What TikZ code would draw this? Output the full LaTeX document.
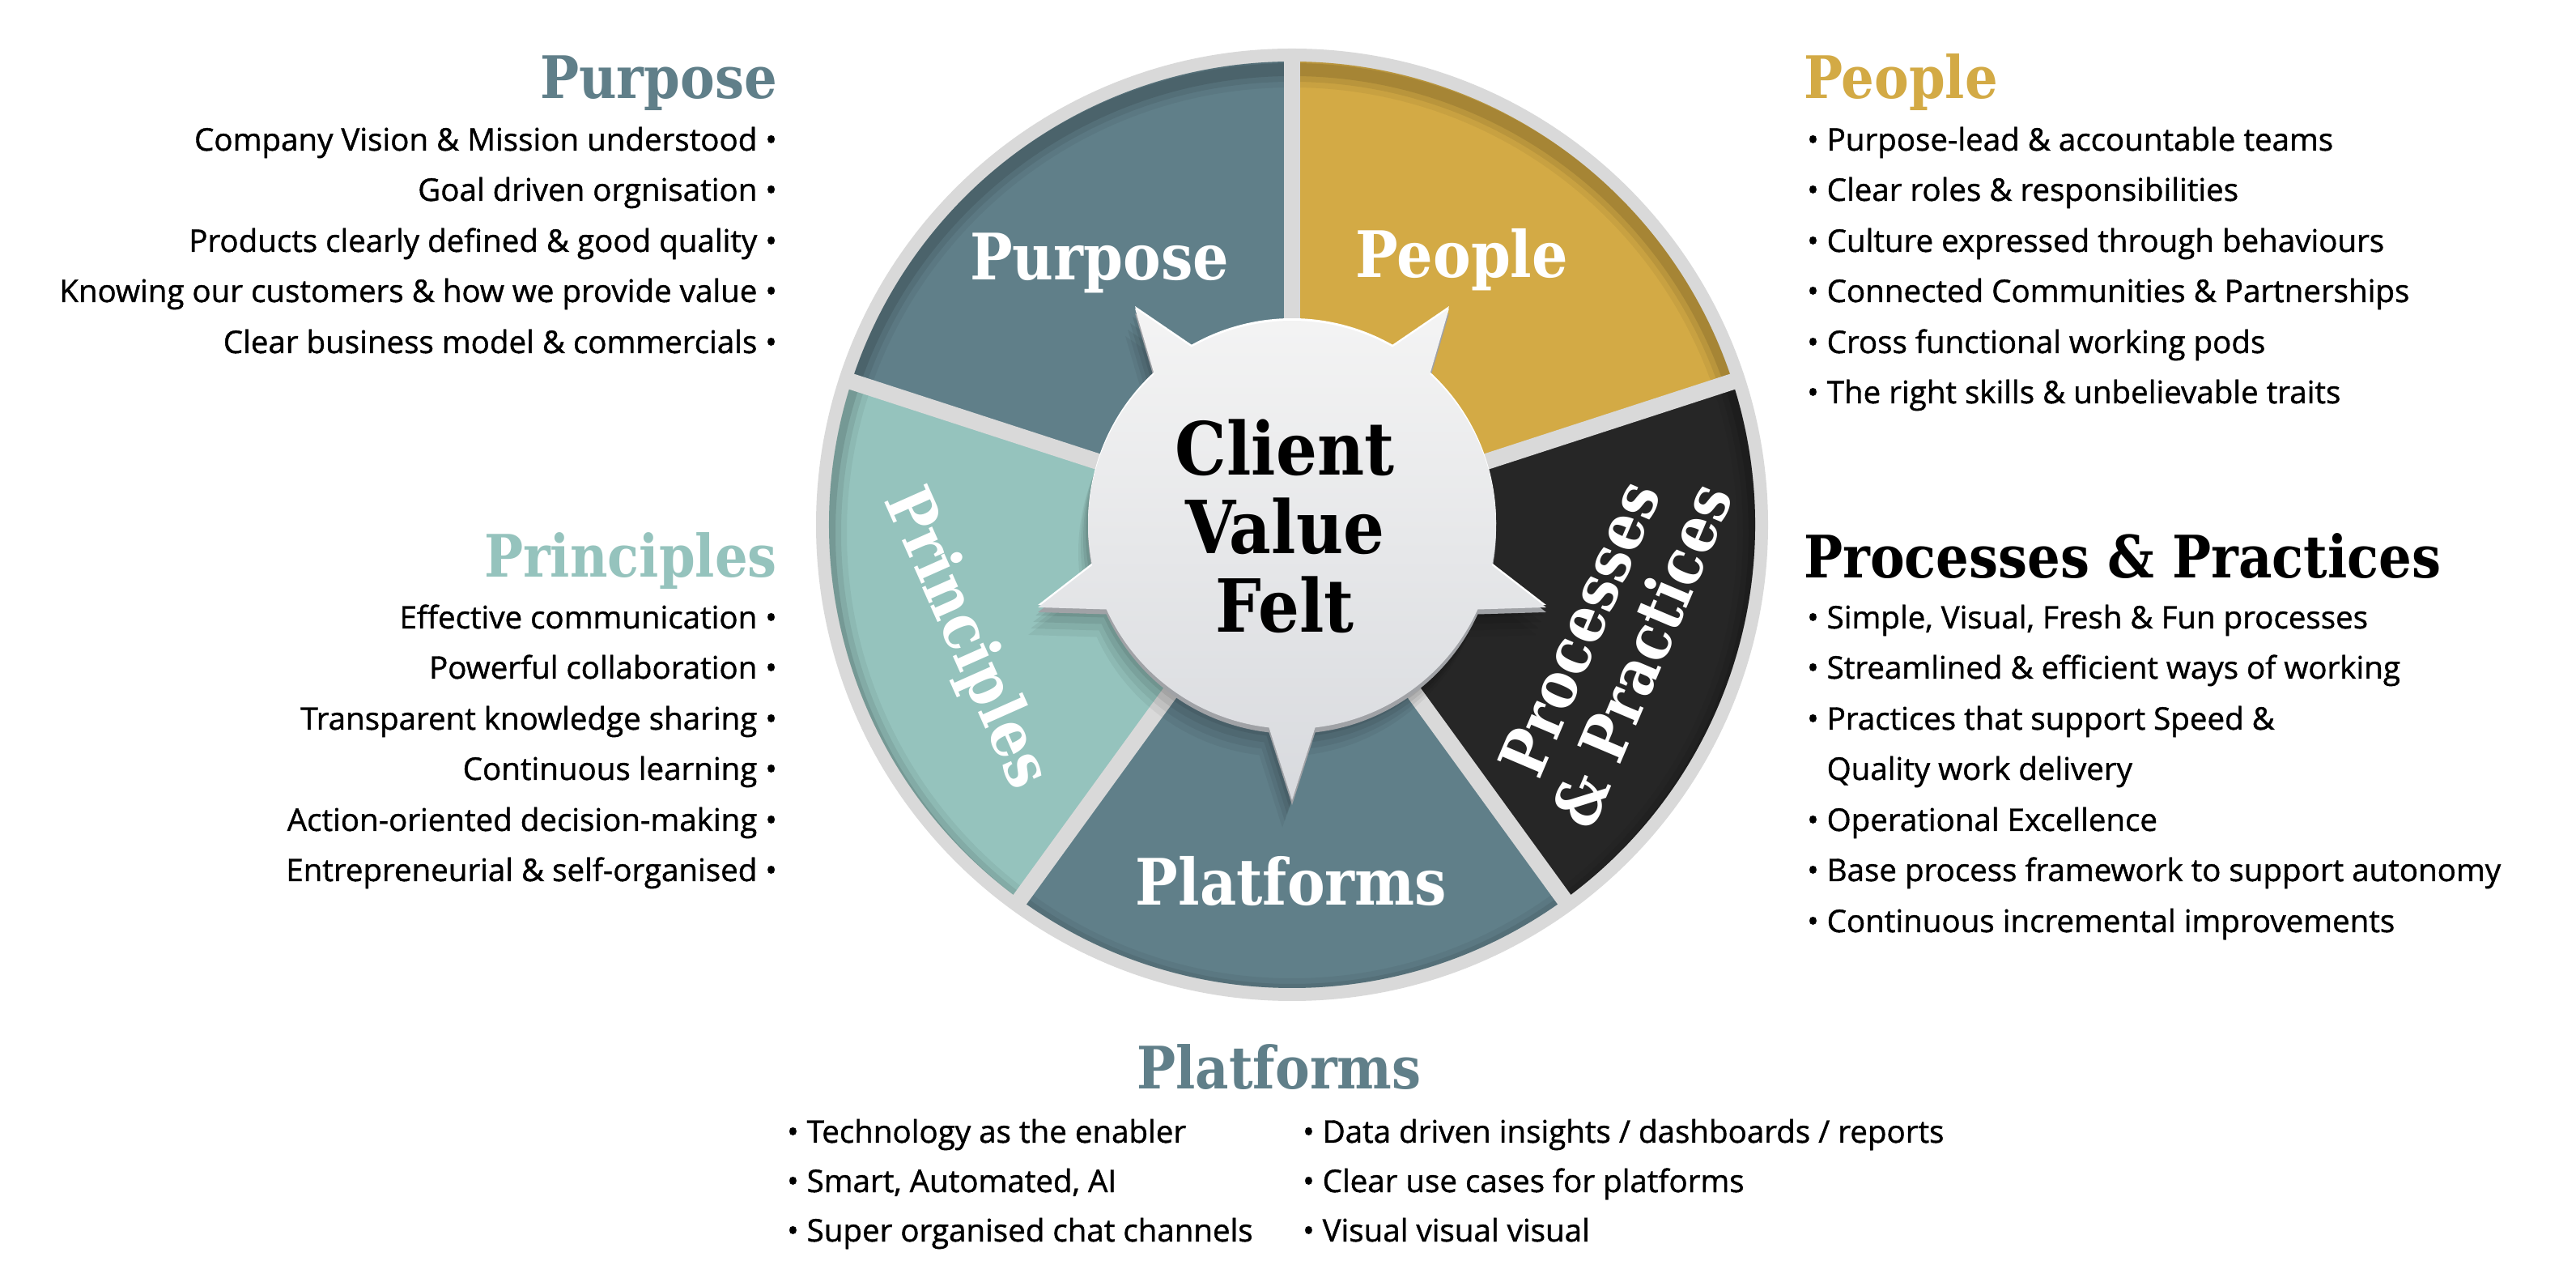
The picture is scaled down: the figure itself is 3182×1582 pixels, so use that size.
\documentclass[tikz,border=0pt]{standalone}
\usepackage{fontspec}
\setmainfont{Open Sans}
\newfontfamily\bodyfont{Open Sans}[FakeBold=1.1]
\newfontfamily\slab{DejaVu Serif}
\definecolor{slate}{HTML}{607F89}
\definecolor{gold}{HTML}{D3AA45}
\definecolor{charcoal}{HTML}{262626}
\definecolor{mint}{HTML}{95C3BD}
\definecolor{gapgray}{HTML}{D9D9D9}
\definecolor{hubtop}{HTML}{F4F4F4}
\definecolor{hubbot}{HTML}{D8DADE}
\newcommand\tall[1]{\scalebox{1}[1.13]{#1}}
\newcommand\myhub[2]{\begin{scope}[shift={#2}]
\path[#1] (47.5:252) -- (54:330) -- (60.5:252) arc[start angle=60.5,end angle=119.5,radius=252]
 -- (126:330) -- (132.5:252) arc[start angle=132.5,end angle=191.5,radius=252]
 -- (198:330) -- (204.5:252) arc[start angle=204.5,end angle=263.5,radius=252]
 -- (270:340) -- (276.5:252) arc[start angle=276.5,end angle=335.5,radius=252]
 -- (342:330) -- (348.5:252) arc[start angle=348.5,end angle=407.5,radius=252] -- cycle;
\end{scope}}
\tikzset{
 body/.style={font=\bodyfont\fontsize{38.5}{46}\selectfont, text=black, inner sep=0pt},
 headtxt/.style={font=\slab\bfseries\fontsize{64}{70}\selectfont, inner sep=0pt},
 seglabel/.style={font=\slab\bfseries\fontsize{70}{70}\selectfont, text=white, inner sep=0pt},
 hubtext/.style={font=\slab\bfseries\fontsize{80}{83}\selectfont, text=black, inner sep=0pt},
 gapline/.style={draw=gapgray, line width=20pt},
}
\begin{document}
\begin{tikzpicture}[x=1pt,y=1pt]
\useasboundingbox (0,0) rectangle (3182,1582);
\fill[white] (0,0) rectangle (3182,1582);
% ---------- wheel ----------
\begin{scope}[shift={(1596,934)}]
\fill[gapgray] (0,0) circle (588);
\fill[slate]    (0,0) -- (90:572) arc[start angle=90,end angle=162,radius=572] -- cycle;
\fill[gold]     (0,0) -- (18:572) arc[start angle=18,end angle=90,radius=572] -- cycle;
\fill[charcoal] (0,0) -- (-54:572) arc[start angle=-54,end angle=18,radius=572] -- cycle;
\fill[slate]    (0,0) -- (-126:572) arc[start angle=-126,end angle=-54,radius=572] -- cycle;
\fill[mint]     (0,0) -- (162:572) arc[start angle=162,end angle=234,radius=572] -- cycle;
% inner rim shadow
\begin{scope}
\clip (0,0) circle (572);
\draw[line width=44pt, black, opacity=0.05] (0,-10) circle (572);
\draw[line width=30pt, black, opacity=0.07] (0,-10) circle (572);
\draw[line width=16pt, black, opacity=0.10] (0,-10) circle (572);
\end{scope}
\coordinate (c) at (0,0);
\foreach \a/\n in {90/g1,18/g2,-54/g3,-126/g4,162/g5}{
  \coordinate (\n) at (\a:578);
  \draw[gapline] (c) -- (\n);
}
% hub shadow
\myhub{fill=black, fill opacity=0.05}{(-12,-34)}
\myhub{fill=black, fill opacity=0.06}{(-9,-26)}
\myhub{fill=black, fill opacity=0.07}{(-6,-18)}
\myhub{fill=black, fill opacity=0.08}{(-3,-10)}
\myhub{fill={rgb,255:red,160;green,162;blue,166}}{(0,-6)}
\myhub{fill=white}{(0,3)}
\myhub{top color=hubtop, bottom color=hubbot}{(0,0)}
% sector labels
\node[seglabel] (lpurpose) at (-238,323) {\tall{Purpose}};
\node[seglabel] (lpeople) at (210,327) {\tall{People}};
\node[seglabel] (lplatforms) at (-1,-440) {\tall{Platforms}};
\node[seglabel, rotate=-66] (lprinciples) at (-404,-141) {\tall{Principles}};
\node[seglabel, rotate=67] (lprocesses) at (404,-149) {\tall{\begin{tabular}{@{}c@{}}Processes\\\& Practices\end{tabular}}};
\node[hubtext] (hub) at (-9,-15) {\tall{\begin{tabular}{@{}c@{}}Client\\Value\\Felt\end{tabular}}};
\end{scope}
% ---------- Purpose ----------
\node[headtxt, text=slate, anchor=base east] (hpurpose) at (960,1460) {\tall{Purpose}};
\node[body, anchor=base east] (pu1) at (960,1396) {Company Vision \& Mission understood •};
\node[body, anchor=base east] (pu2) at (960,1334) {Goal driven orgnisation •};
\node[body, anchor=base east] (pu3) at (960,1271) {Products clearly defined \& good quality •};
\node[body, anchor=base east] (pu4) at (960,1209) {Knowing our customers \& how we provide value •};
\node[body, anchor=base east] (pu5) at (960,1146) {Clear business model \& commercials •};
% ---------- People ----------
\node[headtxt, text=gold, anchor=base west] (hpeople) at (2228,1460) {\tall{People}};
\node[body, anchor=base west] (pe1) at (2232,1396) {• Purpose-lead \& accountable teams};
\node[body, anchor=base west] (pe2) at (2232,1334) {• Clear roles \& responsibilities};
\node[body, anchor=base west] (pe3) at (2232,1271) {• Culture expressed through behaviours};
\node[body, anchor=base west] (pe4) at (2232,1209) {• Connected Communities \& Partnerships};
\node[body, anchor=base west] (pe5) at (2232,1146) {• Cross functional working pods};
\node[body, anchor=base west] (pe6) at (2232,1084) {• The right skills \& unbelievable traits};
% ---------- Principles ----------
\node[headtxt, text=mint, anchor=base east] (hprinciples) at (960,869) {\tall{Principles}};
\node[body, anchor=base east] (pr1) at (960,806) {Effective communication •};
\node[body, anchor=base east] (pr2) at (960,744) {Powerful collaboration •};
\node[body, anchor=base east] (pr3) at (960,681) {Transparent knowledge sharing •};
\node[body, anchor=base east] (pr4) at (960,619) {Continuous learning •};
\node[body, anchor=base east] (pr5) at (960,556) {Action-oriented decision-making •};
\node[body, anchor=base east] (pr6) at (960,494) {Entrepreneurial \& self-organised •};
% ---------- Processes & Practices ----------
\node[headtxt, text=black, anchor=base west] (hprocesses) at (2228,868) {\tall{Processes \& Practices}};
\node[body, anchor=base west] (pp1) at (2232,806) {• Simple, Visual, Fresh \& Fun processes};
\node[body, anchor=base west] (pp2) at (2232,744) {• Streamlined \& efficient ways of working};
\node[body, anchor=base west] (pp3) at (2232,681) {• Practices that support Speed \&};
\node[body, anchor=base west] (pp4) at (2232,619) {\phantom{• }Quality work delivery};
\node[body, anchor=base west] (pp5) at (2232,556) {• Operational Excellence};
\node[body, anchor=base west] (pp6) at (2232,494) {• Base process framework to support autonomy};
\node[body, anchor=base west] (pp7) at (2232,431) {• Continuous incremental improvements};
% ---------- Platforms ----------
\node[headtxt, text=slate, anchor=base] (hplatforms) at (1580,237) {\tall{Platforms}};
\node[body, anchor=base west] (pl1) at (972,171) {• Technology as the enabler};
\node[body, anchor=base west] (pl2) at (972,110) {• Smart, Automated, AI};
\node[body, anchor=base west] (pl3) at (972,49) {• Super organised chat channels};
\node[body, anchor=base west] (pl4) at (1609,171) {• Data driven insights / dashboards / reports};
\node[body, anchor=base west] (pl5) at (1609,110) {• Clear use cases for platforms};
\node[body, anchor=base west] (pl6) at (1609,49) {• Visual visual visual};
\end{tikzpicture}
\end{document}
